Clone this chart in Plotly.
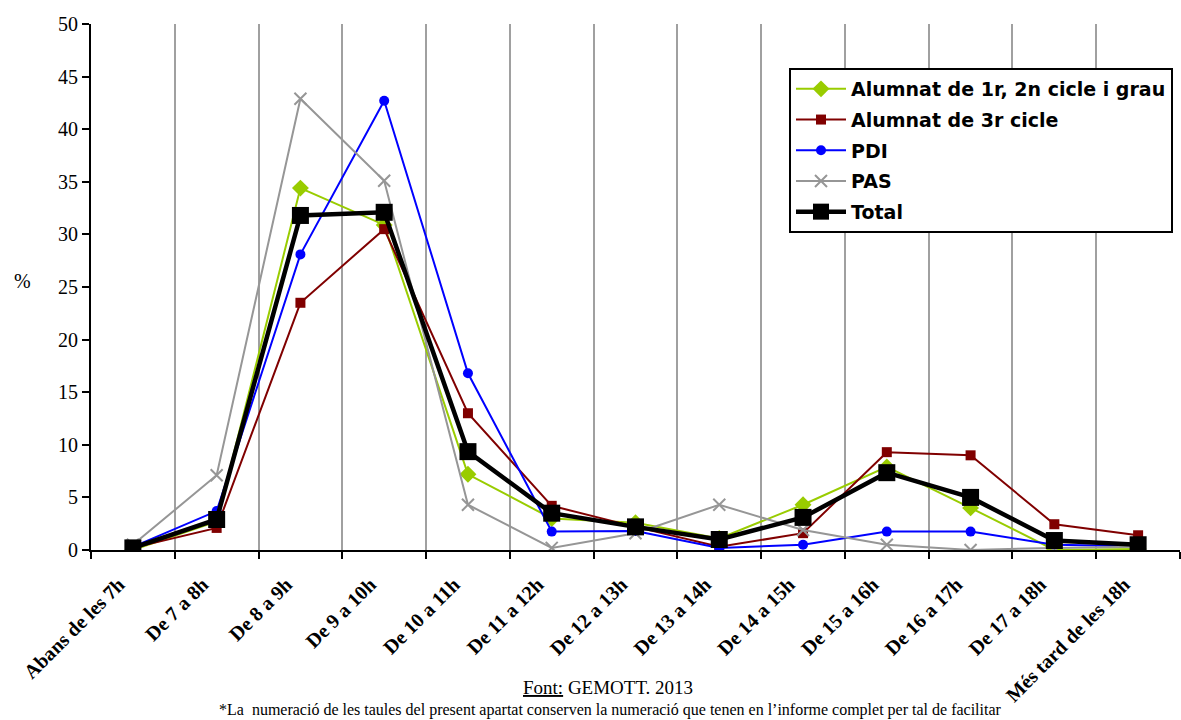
import plotly.graph_objects as go

categories = ["Abans de les 7h", "De 7 a 8h", "De 8 a 9h", "De 9 a 10h", "De 10 a 11h",
              "De 11 a 12h", "De 12 a 13h", "De 13 a 14h", "De 14 a 15h", "De 15 a 16h",
              "De 16 a 17h", "De 17 a 18h", "Més tard de les 18h"]

alumnat_12 = [0.0, 2.7, 34.4, 30.9, 7.2, 3.0, 2.6, 1.1, 4.3, 7.9, 4.0, 0.0, 0.1]
alumnat_3 = [0.2, 2.1, 23.5, 30.5, 13.0, 4.2, 2.2, 0.3, 1.6, 9.3, 9.0, 2.45, 1.4]
pdi = [0.3, 3.7, 28.1, 42.7, 16.8, 1.75, 1.8, 0.2, 0.5, 1.75, 1.75, 0.5, 0.35]
pas = [0.5, 7.1, 42.9, 35.1, 4.3, 0.2, 1.6, 4.3, 1.9, 0.5, 0.0, 0.2, 0.3]
total = [0.2, 2.9, 31.8, 32.1, 9.35, 3.5, 2.2, 1.0, 3.1, 7.35, 5.0, 0.9, 0.5]

y_ticks = [0, 5, 10, 15, 20, 25, 30, 35, 40, 45, 50]

series = [
    ("Alumnat de 1r, 2n cicle i grau", alumnat_12, "#99CC00", 2, "diamond", 13),
    ("Alumnat de 3r cicle", alumnat_3, "#800000", 2, "square", 10),
    ("PDI", pdi, "#0000FF", 2, "circle", 10),
    ("PAS", pas, "#969696", 2, "x-thin-open", 12),
    ("Total", total, "#000000", 4.5, "square", 17),
]

fig = go.Figure()
for i, (name, vals, color, lw, sym, ms) in enumerate(series):
    marker = dict(symbol=sym, size=ms, color=color)
    if sym == "x-thin-open":
        marker["line"] = dict(color=color, width=2)
    fig.add_trace(go.Scatter(
        x=categories, y=vals, name=name, mode="lines+markers",
        line=dict(color=color, width=lw), marker=marker,
        legendgroup=f"g{i}",
    ))

fig.update_layout(
    width=1181, height=720,
    margin=dict(l=91, r=1, t=24, b=170),
    paper_bgcolor="white", plot_bgcolor="white",
    showlegend=True,
    legend=dict(
        x=(789 - 91) / 1089, y=(550 - 68) / 526, xanchor="left", yanchor="top",
        bgcolor="white", bordercolor="black", borderwidth=2,
        font=dict(family="DejaVu Sans", size=19, color="black", weight="bold"),
        traceorder="grouped", tracegroupgap=3, itemwidth=50,
    ),
    font=dict(family="Liberation Serif", color="black"),
)

fig.update_xaxes(
    type="category", categoryorder="array", categoryarray=categories,
    range=[-0.5, 12.5],
    tickson="boundaries", ticks="outside", ticklen=7, tickwidth=2, tickcolor="black",
    showgrid=True, gridcolor="#A0A0A0", gridwidth=2,
    showline=True, linecolor="black", linewidth=2,
    tickangle=-45, ticklabelstandoff=13, ticklabelshift=-14,
    tickfont=dict(family="Liberation Serif", size=20, color="black", weight="bold"),
    zeroline=False,
)
fig.update_yaxes(
    range=[0, 50], tickvals=y_ticks, ticktext=[str(v) for v in y_ticks],
    ticks="outside", ticklen=7, tickwidth=2, tickcolor="black",
    showgrid=False, showline=True, linecolor="black", linewidth=2,
    tickfont=dict(family="Liberation Serif", size=20, color="black"),
    zeroline=False,
)

fig.add_annotation(text="%", xref="paper", yref="paper", x=(22 - 91) / 1089, y=(550 - 281) / 526,
                   xanchor="center", yanchor="middle", showarrow=False,
                   font=dict(family="Liberation Serif", size=20, color="black"))
fig.add_annotation(text="<u>Font:</u> GEMOTT. 2013", xref="paper", yref="paper",
                   x=(608 - 91) / 1089, y=(550 - 687) / 526,
                   xanchor="center", yanchor="middle", showarrow=False,
                   font=dict(family="Liberation Serif", size=19, color="black"))
fig.add_annotation(text="*La  numeració de les taules del present apartat conserven la numeració que tenen en l’informe complet per tal de facilitar",
                   xref="paper", yref="paper",
                   x=(610 - 91) / 1089, y=(550 - 710) / 526,
                   xanchor="center", yanchor="middle", showarrow=False,
                   font=dict(family="Liberation Serif", size=16, color="black"))

fig.write_html("out.html")
